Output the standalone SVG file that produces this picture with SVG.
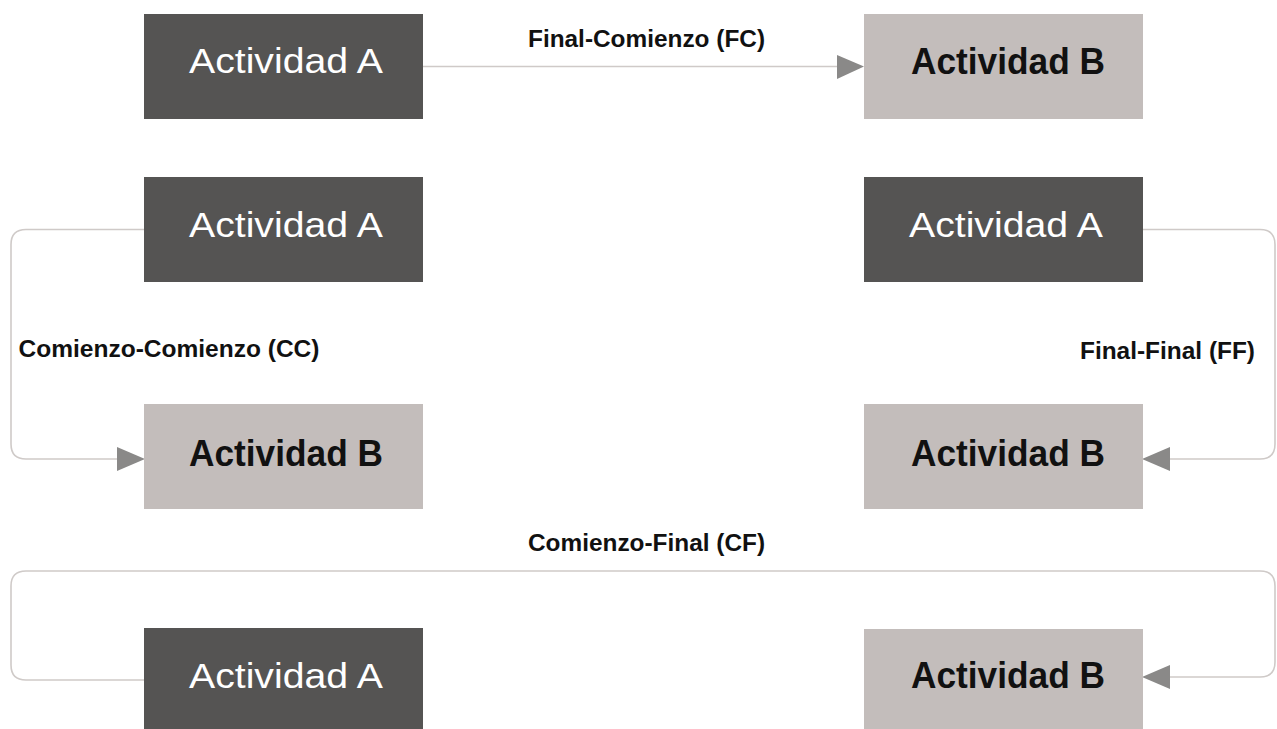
<svg xmlns="http://www.w3.org/2000/svg" width="1277" height="729" viewBox="0 0 1277 729">
<style>
.bg{fill:#ffffff}
.dark{fill:#555453}
.light{fill:#c3bdbb}
.ta{font-family:"Liberation Sans",Arial,sans-serif;font-size:35px;fill:#ffffff;text-anchor:middle}
.tb{font-family:"Liberation Sans",Arial,sans-serif;font-size:36px;font-weight:bold;fill:#111111;text-anchor:middle}
.lbl{font-family:"Liberation Sans",Arial,sans-serif;font-size:24px;font-weight:bold;fill:#111111}
.conn{fill:none;stroke:#cfcac8;stroke-width:1.6}
.head{fill:#8a8988}
</style>
<rect class="bg" x="0" y="0" width="1277" height="729"/>
<g id="connectors">
<path class="conn" d="M423,66.5 H837"/>
<polygon class="head" points="837,55 864,66.5 837,79"/>
<text class="lbl" x="528" y="46.7" textLength="237" lengthAdjust="spacingAndGlyphs">Final-Comienzo (FC)</text>
<path class="conn" d="M144,229.5 H26 Q11,229.5 11,244.5 V444 Q11,459 26,459 H117"/>
<polygon class="head" points="117,447 145,459 117,471"/>
<text class="lbl" x="18.5" y="356.7" textLength="301" lengthAdjust="spacingAndGlyphs">Comienzo-Comienzo (CC)</text>
<path class="conn" d="M1143,229.5 H1260 Q1275,229.5 1275,244.5 V444 Q1275,459 1260,459 H1170"/>
<polygon class="head" points="1170,447 1142,459 1170,471"/>
<text class="lbl" x="1080" y="359.3" textLength="175" lengthAdjust="spacingAndGlyphs">Final-Final (FF)</text>
<path class="conn" d="M144,680 H26 Q11,680 11,665 V586 Q11,571 26,571 H1260 Q1275,571 1275,586 V662 Q1275,677 1260,677 H1170"/>
<polygon class="head" points="1170,665 1142,677 1170,689"/>
<text class="lbl" x="528" y="551" textLength="237" lengthAdjust="spacingAndGlyphs">Comienzo-Final (CF)</text>
</g>
<g id="fc-a"><rect class="dark" x="144" y="14" width="279" height="105"/><text class="ta" x="286" y="73" textLength="194" lengthAdjust="spacingAndGlyphs">Actividad A</text></g>
<g id="fc-b"><rect class="light" x="864" y="14" width="279" height="105"/><text class="tb" x="1008" y="74" textLength="194" lengthAdjust="spacingAndGlyphs">Actividad B</text></g>
<g id="cc-a"><rect class="dark" x="144" y="177" width="279" height="105"/><text class="ta" x="286" y="236.5" textLength="194" lengthAdjust="spacingAndGlyphs">Actividad A</text></g>
<g id="ff-a"><rect class="dark" x="864" y="177" width="279" height="105"/><text class="ta" x="1006" y="236.5" textLength="194" lengthAdjust="spacingAndGlyphs">Actividad A</text></g>
<g id="cc-b"><rect class="light" x="144" y="404" width="279" height="105"/><text class="tb" x="286" y="465.5" textLength="194" lengthAdjust="spacingAndGlyphs">Actividad B</text></g>
<g id="ff-b"><rect class="light" x="864" y="404" width="279" height="105"/><text class="tb" x="1008" y="465.5" textLength="194" lengthAdjust="spacingAndGlyphs">Actividad B</text></g>
<g id="cf-a"><rect class="dark" x="144" y="628" width="279" height="105"/><text class="ta" x="286" y="688" textLength="194" lengthAdjust="spacingAndGlyphs">Actividad A</text></g>
<g id="cf-b"><rect class="light" x="864" y="629" width="279" height="105"/><text class="tb" x="1008" y="688" textLength="194" lengthAdjust="spacingAndGlyphs">Actividad B</text></g>
</svg>
